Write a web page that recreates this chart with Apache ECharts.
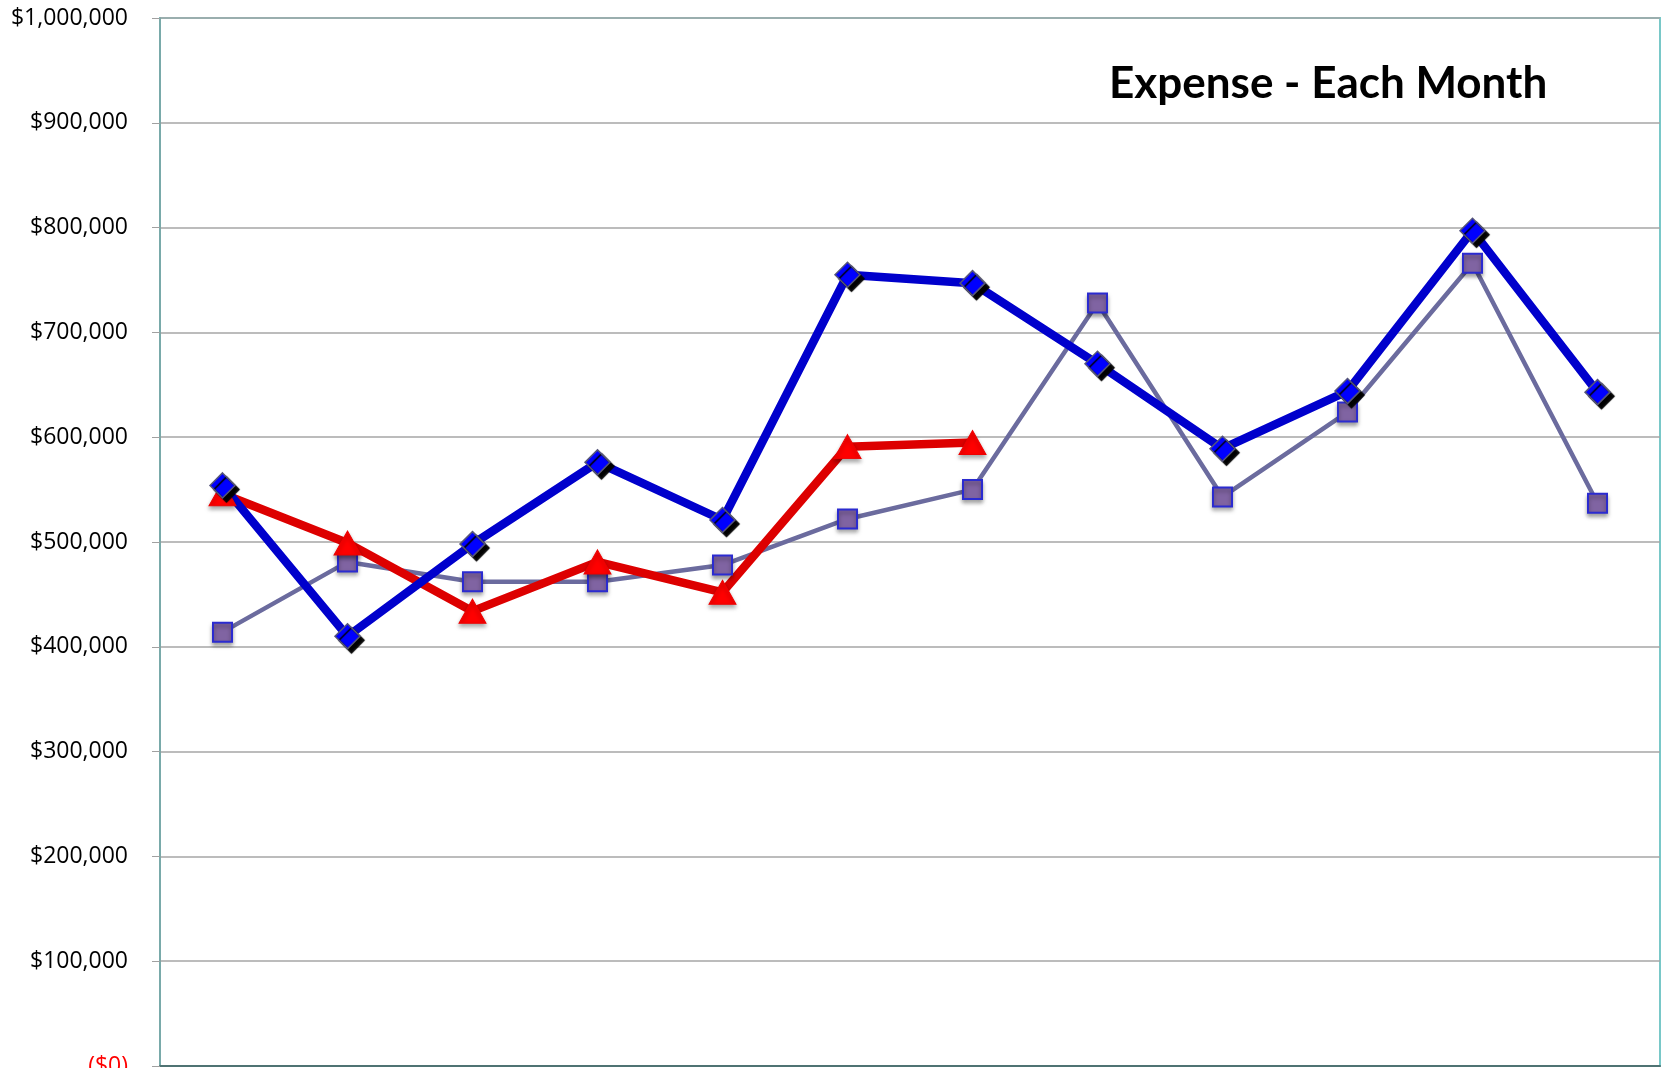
<!DOCTYPE html>
<html lang="en">
<head>
    <meta charset="UTF-8">
    <title>Expense - Each Month</title>
    <style>
        html, body {
            margin: 0;
            height: 100%;
            background: #fff;
        }
        #main {
            width: 1662px;
            height: 1068px;
        }
    </style>
    <script src="https://cdn.jsdelivr.net/npm/echarts@6/dist/echarts.min.js"></script>
</head>
<body>
    <div id="main"></div>
    <script>
        const months = ['Jan', 'Feb', 'Mar', 'Apr', 'May', 'Jun', 'Jul', 'Aug', 'Sep', 'Oct', 'Nov', 'Dec']
        // values, in dollars
        const priorYear = [414000, 481000, 462000, 462000, 478000, 522000, 550000, 728000, 543000, 624000, 766000, 537000]
        const budget = [554000, 410000, 498000, 576000, 521000, 755000, 747000, 670000, 589000, 644000, 797000, 643000]
        const actual = [546000, 499000, 434000, 481000, 452000, 591000, 595000]

        const chart = echarts.init(document.getElementById('main'))

        function money (v) {
            if (v === 0) return '{neg|($0)}'
            return '$' + v.toLocaleString('en-US')
        }

        chart.setOption({
            animation: false,
            title: {
                text: 'Expense - Each Month',
                left: 1104,
                top: 57,
                textStyle: {
                    fontFamily: 'Lato',
                    fontWeight: 'bold',
                    fontSize: 44,
                    color: '#000'
                }
            },
            grid: {
                left: 160,
                right: 2,
                top: 18,
                bottom: 2,
                outerBoundsMode: 'none',
                show: true,
                borderColor: '#79c8c8',
                borderWidth: 2
            },
            xAxis: {
                type: 'category',
                data: months,
                boundaryGap: true,
                axisLine: { lineStyle: { color: '#4f7373', width: 2 } },
                axisTick: { inside: true, length: 4, lineStyle: { color: '#7a8f8f' } },
                axisLabel: { show: false },
                splitLine: { show: false }
            },
            yAxis: {
                type: 'value',
                min: 0,
                max: 1000000,
                interval: 100000,
                axisLine: { show: true, lineStyle: { color: '#7aa0a0', width: 1.5 } },
                axisTick: { show: true, length: 8, lineStyle: { color: '#a0a0a0' } },
                axisLabel: {
                    formatter: money,
                    margin: 32,
                    fontFamily: 'Open Sans',
                    fontSize: 23,
                    color: '#000',
                    rich: {
                        neg: { color: '#ff0000', fontFamily: 'Open Sans', fontSize: 23 }
                    }
                },
                splitLine: { lineStyle: { color: '#a6a6a6', width: 1.5 } }
            },
            series: [
                {
                    name: 'Prior Year',
                    type: 'line',
                    data: priorYear,
                    symbol: 'rect',
                    symbolSize: 19,
                    lineStyle: { color: '#6b6b9e', width: 4.5 },
                    itemStyle: {
                        color: '#8064a2',
                        borderColor: '#2b2bd0',
                        borderWidth: 2,
                        shadowColor: 'rgba(0,0,0,0.35)',
                        shadowBlur: 4,
                        shadowOffsetY: 3
                    }
                },
                {
                    name: 'Actual',
                    type: 'line',
                    data: actual,
                    symbol: 'triangle',
                    symbolSize: [27, 24],
                    lineStyle: { color: '#dd0000', width: 8.5 },
                    itemStyle: {
                        color: '#ff0000',
                        borderColor: '#ee0000',
                        borderWidth: 1,
                        shadowColor: 'rgba(0,0,0,0.35)',
                        shadowBlur: 4,
                        shadowOffsetY: 3
                    }
                },
                {
                    name: 'Budget',
                    type: 'line',
                    data: budget,
                    symbol: 'diamond',
                    symbolSize: 25,
                    lineStyle: { color: '#0000cc', width: 8.5 },
                    itemStyle: {
                        color: '#0000ff',
                        borderColor: '#55557a',
                        borderWidth: 1.5,
                        shadowColor: '#000',
                        shadowBlur: 1,
                        shadowOffsetX: 4,
                        shadowOffsetY: 4
                    }
                }
            ]
        })
    </script>
</body>
</html>
